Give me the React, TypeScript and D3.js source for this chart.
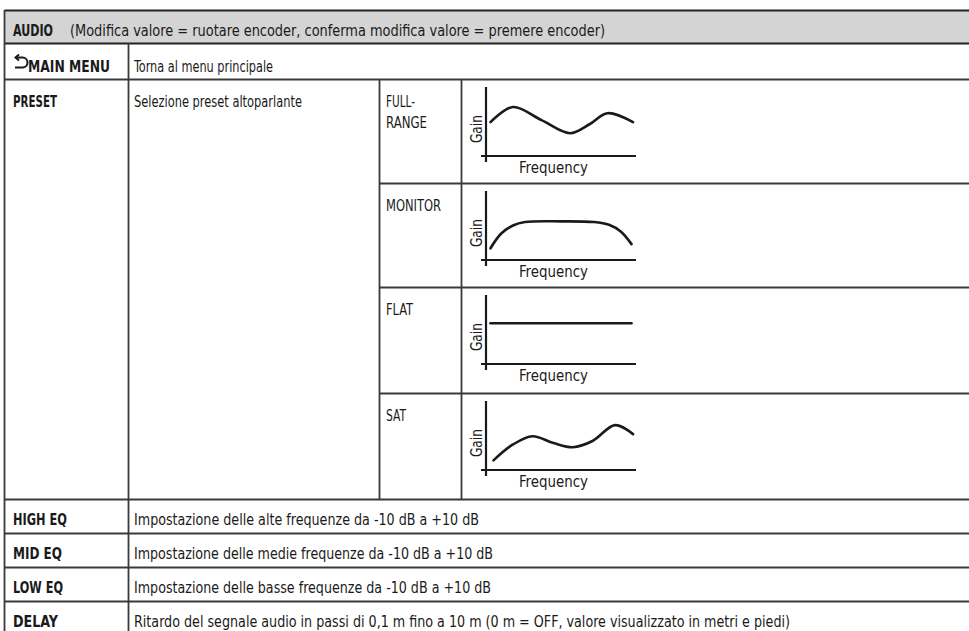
import * as d3 from "d3"

// table texts
const headerTitle = "AUDIO"
const headerNote = "(Modifica valore = ruotare encoder, conferma modifica valore = premere encoder)"
const menuLabel = "MAIN MENU"
const menuText = "Torna al menu principale"
const presetLabel = "PRESET"
const presetText = "Selezione preset altoparlante"
const presetNames = [["FULL-", "RANGE"], ["MONITOR"], ["FLAT"], ["SAT"]]
const eqLabels = ["HIGH EQ", "MID EQ", "LOW EQ", "DELAY"]
const eqTexts = [
  "Impostazione delle alte frequenze da -10 dB a +10 dB",
  "Impostazione delle medie frequenze da -10 dB a +10 dB",
  "Impostazione delle basse frequenze da -10 dB a +10 dB",
  "Ritardo del segnale audio in passi di 0,1 m fino a 10 m (0 m = OFF, valore visualizzato in metri e piedi)",
]
const axisX = "Frequency"
const axisY = "Gain"

// response curves: frequency 0..100, gain 0..100
const fullRange = [[3, 49], [18, 71], [37, 52], [56, 33], [69, 46], [81, 62], [98, 49]]
const monitor = [[3, 17], [10, 38], [18, 50], [26, 55], [50, 56], [72, 55], [82, 51], [90, 41], [97, 23]]
const flat = [[3, 59], [97, 59]]
const sat = [[5, 14], [18, 37], [31, 49], [45, 39], [58, 33], [71, 42], [86, 65], [98, 52]]
const curves = [fullRange, monitor, flat, sat]

const W = 969
const H = 631
const FONT = "'DejaVu Sans Condensed', 'Liberation Sans Narrow', sans-serif"
const LINE = "#3a3a3a"
const INK = "#1a1a1a"
const rowTops = [10, 43, 79, 183, 287, 393, 499, 533, 567, 601, 660]
const colX = [4.5, 128.5, 379.5, 461.5]

// measured text widths, to squeeze the fallback font to the condensed original
const presetNameWidths = [[29, 41], [55], [27], [20]]
const eqLabelWidths = [54, 49, 50, 45]
const eqTextWidths = [345, 359, 357, 656]

function T({ x, y, w, bold, children }: { x: number; y: number; w: number; bold?: boolean; children: string }) {
  return (
    <text x={x} y={y} textLength={w} lengthAdjust="spacingAndGlyphs" fontWeight={bold ? "bold" : "normal"}>
      {children}
    </text>
  )
}

function Diagram({ data, top }: { data: number[][]; top: number }) {
  const x = d3.scaleLinear().domain([0, 100]).range([486, 636])
  const y = d3.scaleLinear().domain([0, 100]).range([77, 8])
  const line = d3.line<number[]>()
    .x(d => x(d[0]))
    .y(d => y(d[1]))
    .curve(d3.curveCatmullRom.alpha(0.5))
  return (
    <g transform={`translate(0,${top})`}>
      <line x1={x(0)} x2={x(0)} y1={y(100)} y2={y(0) + 6} stroke={INK} strokeWidth={2.2} />
      <line x1={x(0) - 5} x2={x(100)} y1={y(0)} y2={y(0)} stroke={INK} strokeWidth={2.2} />
      <path d={line(data) ?? ""} fill="none" stroke={INK} strokeWidth={2.6} strokeLinecap="round" />
      <text x={x(45)} y={94} textAnchor="middle" fontSize={16} fill={INK} textLength={69} lengthAdjust="spacingAndGlyphs">{axisX}</text>
      <text transform={`translate(482,${y(39)}) rotate(-90)`} textAnchor="middle" fontSize={16} fill={INK} textLength={28} lengthAdjust="spacingAndGlyphs">{axisY}</text>
    </g>
  )
}

export default function App() {
  return (
    <svg width={W} height={H} style={{ position: "absolute", left: 0, top: 0, display: "block", background: "#fff" }}
      fontFamily={FONT}>
      <rect x={colX[0]} y={rowTops[0]} width={W} height={rowTops[1] - rowTops[0]} fill="#d4d4d4" />
      {/* horizontal rules; preset sub-rows only split the right-hand columns */}
      {rowTops.slice(0, -1).map((t, i) => (
        <line key={i} x1={i >= 3 && i <= 5 ? colX[2] : colX[0]} x2={W} y1={t + 0.5} y2={t + 0.5}
          stroke={i <= 1 ? "#222" : LINE} strokeWidth={i <= 1 ? 2.2 : 1.8} />
      ))}
      {/* vertical rules */}
      <line x1={colX[0]} x2={colX[0]} y1={rowTops[0]} y2={H} stroke={LINE} strokeWidth={1.8} />
      <line x1={colX[1]} x2={colX[1]} y1={rowTops[1]} y2={H} stroke={LINE} strokeWidth={1.8} />
      <line x1={colX[2]} x2={colX[2]} y1={rowTops[2]} y2={rowTops[6]} stroke={LINE} strokeWidth={1.8} />
      <line x1={colX[3]} x2={colX[3]} y1={rowTops[2]} y2={rowTops[6]} stroke={LINE} strokeWidth={1.8} />

      <g fill={INK} fontSize={16}>
        <T x={13} y={rowTops[0] + 26} w={40} bold>{headerTitle}</T>
        <T x={70} y={rowTops[0] + 26} w={535}>{headerNote}</T>

        <path d="M16.5,57.5 H22.5 A5,5 0 0 1 22.5,67.5 H15" fill="none" stroke={INK} strokeWidth={2} />
        <path d="M19,54.5 L15.5,57.5 L19,60.5" fill="none" stroke={INK} strokeWidth={2} />
        <T x={28} y={rowTops[1] + 29} w={82} bold>{menuLabel}</T>
        <T x={134} y={rowTops[1] + 29} w={139}>{menuText}</T>

        <T x={13} y={rowTops[2] + 28} w={44} bold>{presetLabel}</T>
        <T x={134} y={rowTops[2] + 28} w={168}>{presetText}</T>
        {presetNames.map((lines, i) =>
          lines.map((l, j) => (
            <T key={`${i}-${j}`} x={386} y={rowTops[2 + i] + 28 + j * 21} w={presetNameWidths[i][j]}>{l}</T>
          ))
        )}

        {eqLabels.map((l, i) => (
          <g key={l}>
            <T x={13} y={rowTops[6 + i] + 26} w={eqLabelWidths[i]} bold>{l}</T>
            <T x={134} y={rowTops[6 + i] + 26} w={eqTextWidths[i]}>{eqTexts[i]}</T>
          </g>
        ))}
      </g>

      {curves.map((c, i) => (
        <Diagram key={i} data={c} top={rowTops[2 + i]} />
      ))}
    </svg>
  )
}
